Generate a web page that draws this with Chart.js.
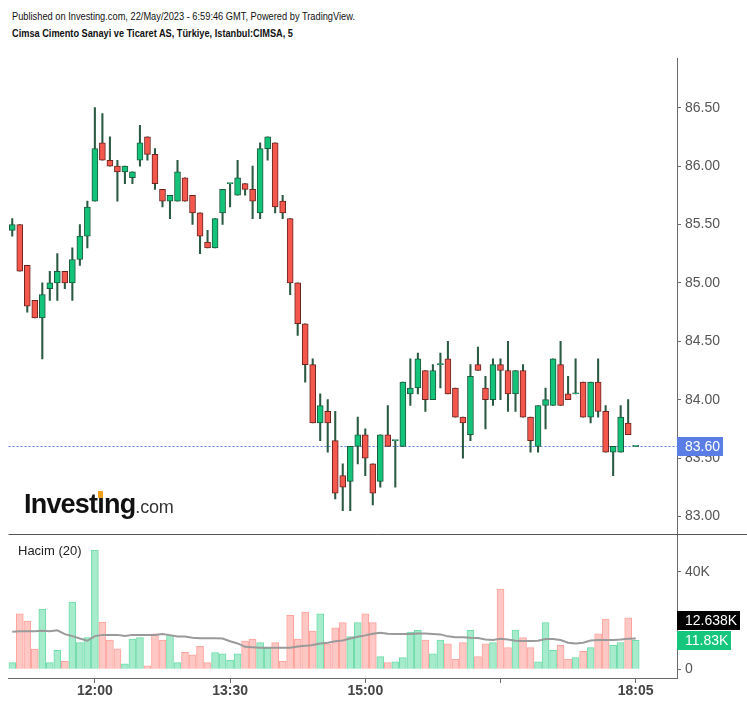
<!DOCTYPE html>
<html><head><meta charset="utf-8">
<script src="https://cdn.jsdelivr.net/npm/chart.js@4.4.0/dist/chart.umd.min.js"></script>
<style>
html,body{margin:0;padding:0;background:#fff;width:747px;height:707px;overflow:hidden;position:relative;font-family:'Liberation Sans',Arial,sans-serif;}
#wrap{position:absolute;left:0;top:58px;width:747px;height:649px;}
.hdr{position:absolute;left:12px;white-space:nowrap;font-family:'Liberation Sans',Arial,sans-serif;font-size:11px;line-height:11px;color:#111;transform-origin:0 0;}
#pub{top:11px;}
#ttl{top:28px;font-weight:bold;}
#logo{position:absolute;left:24px;top:491px;font:bold 27px 'Liberation Sans',Arial,sans-serif;line-height:27px;letter-spacing:-0.8px;color:#111;white-space:nowrap;z-index:2}
#logo .com{font-weight:normal;font-size:18px;letter-spacing:-0.2px;color:#333;}
#logo .idot{position:relative;}
#logo .idot::after{content:'';position:absolute;left:50%;margin-left:-2.6px;top:2px;width:5px;height:6.5px;background:#f5a01a;}
#hacim{position:absolute;left:18px;top:544px;font:13px 'Liberation Sans',Arial,sans-serif;line-height:13px;color:#222;z-index:2;white-space:nowrap}
</style></head>
<body>
<div id="pub" class="hdr">Published on Investing.com, 22/May/2023 - 6:59:46 GMT, Powered by TradingView.</div>
<div id="ttl" class="hdr">Cimsa Cimento Sanayi ve Ticaret AS, Türkiye, Istanbul:CIMSA, 5</div>
<div id="wrap"><canvas id="c"></canvas></div>
<div id="logo">Invest<span class="idot">i</span>ng<span class="com">.com</span></div>
<div id="hacim">Hacim (20)</div>
<script>
// ---- data ----
const times = ["11:05","11:10","11:15","11:20","11:25","11:30","11:35","11:40","11:45","11:50","11:55",
"12:00","12:05","12:10","12:15","12:20","12:25","12:30","12:35","12:40","12:45","12:50","12:55",
"13:00","13:05","13:10","13:15","13:20","13:25","13:30","13:35","13:40","13:45","13:50","13:55",
"14:00","14:05","14:10","14:15","14:20","14:25","14:30","14:35","14:40","14:45","14:50","14:55",
"15:00","15:05","15:10","15:15","15:20","15:25","15:30","15:35","15:40","15:45","15:50","15:55",
"16:00","16:05","16:10","16:15","16:20","16:25","16:30","16:35","16:40","16:45","16:50","16:55",
"17:00","17:05","17:10","17:15","17:20","17:25","17:30","17:35","17:40","17:45","17:50","17:55",
"18:05"];
const opens  = [85.45,85.50,85.15,84.85,84.70,84.95,85.00,85.10,85.00,85.20,85.40,85.70,86.20,86.05,86.00,85.95,85.90,86.05,86.25,86.10,85.80,85.70,85.70,85.90,85.75,85.60,85.35,85.30,85.60,85.85,85.75,85.85,85.80,85.60,86.15,86.20,85.70,85.55,85.00,84.65,84.30,83.80,83.90,83.65,83.35,83.30,83.60,83.70,83.45,83.30,83.70,83.65,83.60,84.05,84.10,84.25,84.00,84.30,84.35,84.10,83.85,83.70,84.30,84.10,84.00,84.30,84.25,84.05,84.25,83.85,83.60,83.95,83.95,84.30,84.05,84.05,84.15,83.85,84.15,83.90,83.55,83.55,83.80,83.60];
const highs  = [85.55,85.50,85.15,84.85,85.00,85.10,85.25,85.10,85.30,85.50,85.70,86.50,86.45,86.25,86.05,86.00,85.95,86.35,86.25,86.15,85.80,85.75,86.05,85.90,85.75,85.60,85.45,85.55,85.80,85.85,86.05,85.85,86.00,86.20,86.25,86.20,85.75,85.55,85.00,84.65,84.35,84.05,84.00,83.90,83.45,83.60,83.85,83.75,83.45,83.70,83.95,83.65,84.15,84.35,84.40,84.25,84.30,84.40,84.50,84.10,83.85,84.30,84.45,84.20,84.35,84.35,84.50,84.25,84.30,83.85,83.95,84.10,84.35,84.50,84.20,84.35,84.15,84.15,84.35,83.95,83.60,83.95,84.00,83.60];
const lows   = [85.40,85.10,84.75,84.70,84.35,84.85,84.85,84.95,84.85,85.15,85.30,85.70,86.05,86.00,85.70,85.85,85.85,86.00,86.05,85.80,85.65,85.55,85.70,85.70,85.50,85.25,85.30,85.30,85.50,85.65,85.75,85.75,85.55,85.55,86.05,85.60,85.55,84.90,84.55,84.15,83.80,83.65,83.55,83.15,83.05,83.05,83.45,83.35,83.10,83.25,83.60,83.25,83.60,83.95,84.05,83.90,84.00,84.10,84.05,83.85,83.50,83.65,84.25,83.75,83.95,84.00,83.90,83.90,83.85,83.55,83.55,83.75,83.95,83.95,84.00,84.05,83.85,83.80,83.85,83.55,83.35,83.55,83.70,83.60];
const closes = [85.50,85.10,84.80,84.70,84.90,85.00,85.10,85.00,85.20,85.40,85.65,86.15,86.05,86.00,85.95,86.00,85.95,86.20,86.10,85.85,85.70,85.75,85.95,85.70,85.60,85.40,85.30,85.55,85.80,85.85,85.90,85.80,85.70,86.15,86.25,85.65,85.60,85.00,84.65,84.30,83.80,83.95,83.80,83.20,83.25,83.60,83.70,83.50,83.20,83.70,83.60,83.65,84.15,84.10,84.35,84.00,84.25,84.30,84.05,83.85,83.80,84.20,84.25,84.00,84.30,84.25,84.05,84.25,83.85,83.65,83.95,84.00,84.35,83.95,84.00,84.05,83.85,84.15,83.90,83.55,83.60,83.85,83.70,83.60];
const volumesK = [2.7,22.7,19.8,8.3,24.7,2.7,7.8,3.3,27.5,10.9,13.0,48.9,19.3,12.0,8.4,2.2,12.4,13.0,1.4,14.5,12.0,13.8,2.7,7.0,5.9,9.4,2.7,6.8,6.3,3.8,6.3,11.6,12.4,10.9,8.6,10.9,3.3,22.1,12.4,23.4,15.7,22.7,10.4,17.0,19.1,13.4,19.1,22.7,19.1,5.2,2.7,3.1,4.8,15.2,16.0,12.0,6.3,12.0,10.4,4.2,10.9,16.0,5.2,10.4,10.9,32.9,8.9,16.1,13.0,8.9,3.1,19.1,7.8,9.8,4.2,4.8,7.4,8.9,14.5,20.6,9.8,10.9,21.1,11.83];
const volumeMA = [15.4,15.6,15.6,15.6,15.8,15.6,16.0,14.4,13.6,12.6,11.7,13.6,14.1,14.1,14.1,13.6,14.1,14.1,14.1,14.1,14.5,14.0,13.4,13.4,12.9,12.7,12.7,12.7,12.6,11.5,10.6,9.2,9.0,8.8,8.8,8.8,8.8,8.8,9.3,9.6,10.0,10.6,10.9,11.5,11.8,12.6,13.3,13.9,14.6,15.0,14.6,14.5,14.5,14.5,14.7,14.7,14.5,14.3,13.5,13.1,13.1,12.9,12.8,12.2,12.0,12.5,12.2,11.7,11.6,11.6,11.7,12.4,12.4,12.0,10.9,10.6,10.9,11.8,12.0,12.0,12.0,12.2,12.5,12.638];
const tickTimes = ["12:00","13:30","15:00","16:30","18:05"];
const hiddenTickText = ["16:30"];
const emptyBarsRight = 5;

// ---- styles ----
const UP='#14c37a', DOWN='#f4574c', UP_B='#1c5a3d', DOWN_B='#6b2420', WICK='#2a5a42';
const VUP='#a6ebcb', VUP_B='#6fdcaa', VDN='#ffc8c4', VDN_B='#ffa29c';
const AXIS='#6b6b6b';

// condense header text to the reference widths
function fit(id, target){const el=document.getElementById(id);const w=el.getBoundingClientRect().width;el.style.transform='scaleX('+(target/w)+')';}
fit('pub',343); fit('ttl',281);

const labels = times.concat(Array(emptyBarsRight).fill(''));
const isUp = i => closes[i] >= opens[i];

const overlay = {
  id:'overlay',
  beforeDatasetsDraw(chart){
    const {ctx, chartArea:a, scales:{y}} = chart;
    const py = Math.round(y.getPixelForValue(closes[closes.length-1]))+0.5;
    ctx.save(); ctx.strokeStyle='#5b7fe6'; ctx.lineWidth=1; ctx.setLineDash([2,2]);
    ctx.beginPath(); ctx.moveTo(a.left,py); ctx.lineTo(a.right,py); ctx.stroke(); ctx.restore();
  },
  afterDraw(chart){
    const {ctx, chartArea:a, scales:{y,yv}} = chart;
    ctx.save();
    const sy = Math.round(yv.top)+0.5;
    ctx.strokeStyle='#555'; ctx.lineWidth=1; ctx.beginPath(); ctx.moveTo(a.left,sy); ctx.lineTo(chart.width,sy); ctx.stroke();
    function tag(text, cy, bg){
      ctx.font="14px 'Liberation Sans', Arial, sans-serif";
      const tw = ctx.measureText(text).width; const h=19; const x0=Math.round(y.left);
      ctx.fillStyle=bg; ctx.fillRect(x0, Math.round(cy-h/2), Math.round(tw+11), h);
      ctx.fillStyle='#fff'; ctx.textBaseline='middle'; ctx.textAlign='left'; ctx.fillText(text, x0+8, Math.round(cy-h/2)+h/2+0.5);
    }
    const last = closes.length-1;
    tag(closes[last].toFixed(2), y.getPixelForValue(closes[last]), '#5a7ee6');
    const yVol = yv.getPixelForValue(volumesK[last]);
    let yMA = yv.getPixelForValue(volumeMA[last]);
    if (Math.abs(yMA-yVol) < 20) yMA = (volumeMA[last] > volumesK[last]) ? yVol-20 : yVol+20;
    tag(volumeMA[last].toFixed(3)+'K', yMA, '#000');
    tag(volumesK[last].toFixed(2)+'K', yVol, isUp(last)?'#16c67c':'#f4574c');
    ctx.restore();
  }
};

Chart.defaults.font.family = "'Liberation Sans', Arial, sans-serif";
new Chart(document.getElementById('c'), {
  type:'bar',
  data:{ labels, datasets:[
    { type:'line', data: volumeMA, yAxisID:'yv', borderColor:'#9a9a9a', borderWidth:2, pointRadius:0, tension:0, order:1 },
    { data: opens.map((o,i)=>[o, closes[i]]), yAxisID:'y', grouped:false, barThickness:6, minBarLength:1,
      backgroundColor: c => isUp(c.dataIndex)?UP:DOWN, borderColor: c => isUp(c.dataIndex)?UP_B:DOWN_B,
      borderWidth:1, borderSkipped:false, order:2 },
    { data: lows.map((l,i)=>[l, highs[i]]), yAxisID:'y', grouped:false, barThickness:1.4, backgroundColor:WICK, borderWidth:0, order:3 },
    { data: volumesK, yAxisID:'yv', grouped:false, barThickness:7,
      backgroundColor: c => isUp(c.dataIndex)?VUP:VDN, borderColor: c => isUp(c.dataIndex)?VUP_B:VDN_B,
      borderWidth:1, order:4 }
  ]},
  options:{
    responsive:true, maintainAspectRatio:false, animation:false,
    layout:{padding:{left:8.5,right:0,top:0,bottom:0}},
    plugins:{legend:{display:false}, tooltip:{enabled:false}},
    scales:{
      x:{ type:'category', offset:true,
        grid:{display:true, drawOnChartArea:false, drawTicks:true, tickLength:5, color:AXIS, offset:false},
        border:{display:true, color:AXIS},
        ticks:{autoSkip:false, maxRotation:0, padding:0, color:'#444', font:{size:14, weight:'bold'},
          callback(v){ const l=this.getLabelForValue(v); return hiddenTickText.includes(l)?'':l; }},
        afterBuildTicks(s){ const L=s.getLabels(); s.ticks = s.ticks.filter(t=>tickTimes.includes(L[t.value])); },
        afterFit(s){ s.height=29; s.paddingLeft=0; s.paddingRight=0; }
      },
      y:{ position:'right', stack:'panes', stackWeight:476, min:82.850, max:86.9255,
        grid:{drawOnChartArea:false, tickLength:4, color:AXIS}, border:{display:true,color:AXIS},
        ticks:{stepSize:0.5, includeBounds:false, padding:4, color:'#555', font:{size:14}, callback:v=>v.toFixed(2)},
        afterFit(s){ s.width=70; s.paddingTop=0; s.paddingBottom=0; }
      },
      yv:{ position:'right', stack:'panes', stackWeight:144, min:-3.57, max:55.45,
        grid:{drawOnChartArea:false, tickLength:4, color:AXIS}, border:{display:true,color:AXIS},
        ticks:{stepSize:40, includeBounds:false, padding:4, color:'#555', font:{size:14}, callback:v=>v===0?'0':v+'K'},
        afterFit(s){ s.width=70; s.paddingTop=0; s.paddingBottom=0; }
      }
    }
  },
  plugins:[overlay]
});
</script>
</body></html>
